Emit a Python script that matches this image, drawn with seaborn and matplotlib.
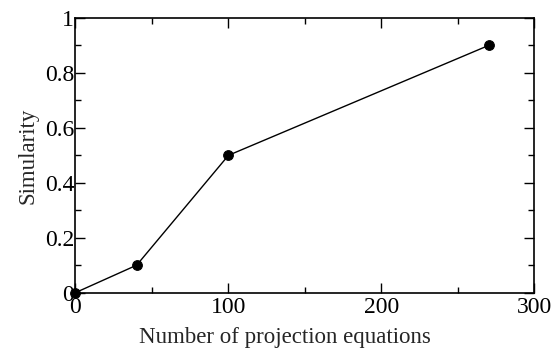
import matplotlib
matplotlib.use("Agg")
import matplotlib.pyplot as plt
import seaborn as sns
import pandas as pd
from matplotlib.ticker import MultipleLocator

# Data
equations = [0, 40, 100, 270]
similarity = [0.0, 0.1, 0.5, 0.9]
x_ticks = [0, 100, 200, 300]
y_ticks = [0, 0.2, 0.4, 0.6, 0.8, 1.0]
y_tick_labels = ["0", "0.2", "0.4", "0.6", "0.8", "1"]

df = pd.DataFrame({"equations": equations, "similarity": similarity})

sns.set_theme(style="ticks")
plt.rcParams["font.family"] = ["Liberation Serif", "DejaVu Serif"]

fig, ax = plt.subplots(figsize=(5.55, 3.53), dpi=100)
fig.subplots_adjust(left=0.136, right=0.963, top=0.949, bottom=0.171)

sns.lineplot(data=df, x="equations", y="similarity", ax=ax, color="black",
             linewidth=1.0, marker="o", markersize=7, markeredgecolor="black",
             markerfacecolor="black", clip_on=False)

ax.set_xlim(0, 300)
ax.set_ylim(0, 1)
ax.set_xticks(x_ticks)
ax.set_xticklabels([str(t) for t in x_ticks])
ax.set_yticks(y_ticks)
ax.set_yticklabels(y_tick_labels)
ax.xaxis.set_minor_locator(MultipleLocator(50))
ax.yaxis.set_minor_locator(MultipleLocator(0.1))

ax.tick_params(which="both", direction="in", top=True, right=True,
               colors="black", labelsize=17)
ax.tick_params(axis="x", pad=3)
ax.tick_params(axis="y", pad=1)
ax.tick_params(which="major", length=7, width=1)
ax.tick_params(which="minor", length=4, width=1)
for s in ax.spines.values():
    s.set_color("black")
    s.set_linewidth(1.2)

ax.set_xlabel("Number of projection equations", fontsize=16.5)
ax.set_ylabel("Simularity", fontsize=16.5)
ax.xaxis.set_label_coords(0.457, -0.125)
ax.yaxis.set_label_coords(-0.08, 0.5)

fig.savefig("out.png", dpi=100)
